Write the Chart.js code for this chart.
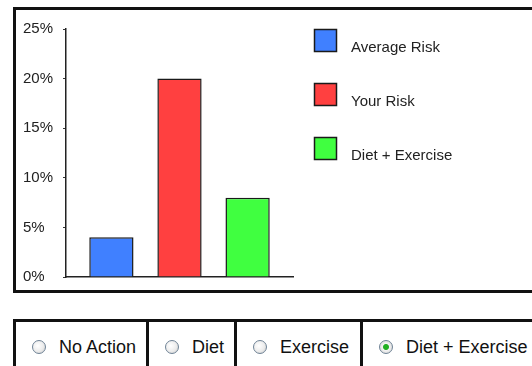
<!DOCTYPE html>
<html lang="en">
<head>
  <meta charset="UTF-8">
  <script src="https://cdn.jsdelivr.net/npm/chart.js"></script>
  <title>Risk</title>
  <style>
    body{margin:0; overflow:hidden; background:#fff; font-family:"Liberation Sans", Arial, sans-serif;}
    #box{position:absolute; left:13px; top:7px; width:560px; height:280px; border:3px solid #111;}
    #wrap{position:absolute; left:0; top:0; width:500px; height:280px;}
    #opts{position:absolute; left:13px; top:319px; display:flex; border-top:3px solid #111; border-left:3px solid #111; height:60px;}
    .opt{box-sizing:border-box; border-right:3px solid #111; height:57px; padding:14px 10px 0 16px; white-space:nowrap; line-height:22px; font-size:18px; color:#111;}
    .opt input{-webkit-appearance:none; appearance:none; width:14px; height:14px; border:1px solid #6f8396; border-radius:50%; margin:0 13px 0 0; vertical-align:-1px;
      background:radial-gradient(circle at 40% 40%, #fff 0%, #ececec 55%, #c4c4c4 100%);}
    .opt input:checked{background:radial-gradient(circle, #22b022 0, #22b022 2.5px, #f4f4f4 3.5px, #e4e4e4 65%, #c4c4c4 100%);}
  </style>
</head>
<body>
  <div id="box">
    <div id="wrap"><canvas id="myChart"></canvas></div>
  </div>
  <div id="opts">
    <label class="opt" style="width:133px"><input type="radio" name="act">No Action</label>
    <label class="opt" style="width:88px"><input type="radio" name="act">Diet</label>
    <label class="opt" style="width:126px"><input type="radio" name="act">Exercise</label>
    <label class="opt" style="width:200px"><input type="radio" name="act" checked>Diet + Exercise</label>
  </div>
  <script>
    // data
    const categories = ['Risk'];
    const seriesNames = ['Average Risk', 'Your Risk', 'Diet + Exercise'];
    const averageRisk = [4];
    const yourRisk = [20];
    const dietExercise = [8];
    const yTicks = [0, 5, 10, 15, 20, 25];
    const barColors = ['#4080ff', '#ff4040', '#40ff40'];

    const seriesValues = [averageRisk, yourRisk, dietExercise];
    const fontFamily = '"Liberation Sans", Arial, sans-serif';

    // legend on the right, text sits low next to the box
    const sideLegend = {
      id: 'sideLegend',
      afterDraw(chart){
        const {ctx, chartArea} = chart;
        chart.data.datasets.forEach(function(ds, i){
          const x = Math.round(chartArea.right) + 21;
          const y = Math.round(chartArea.top) + i * 54;
          ctx.save();
          ctx.fillStyle = ds.backgroundColor;
          ctx.fillRect(x, y, 23, 23);
          ctx.strokeStyle = '#1a1a1a';
          ctx.lineWidth = 1.5;
          ctx.strokeRect(x + 0.5, y + 0.5, 22, 22);
          ctx.fillStyle = '#222';
          ctx.font = '15px ' + fontFamily;
          ctx.textBaseline = 'alphabetic';
          ctx.fillText(ds.label, x + 37, y + 23);
          ctx.restore();
        });
      }
    };

    const ctx = document.getElementById('myChart');
    new Chart(ctx, {
      type: 'bar',
      data: {
        labels: categories,
        datasets: seriesNames.map(function(name, i){
          return {
            label: name,
            data: seriesValues[i],
            backgroundColor: barColors[i],
            borderColor: '#1a1a1a',
            borderWidth: 1.5,
            barPercentage: 0.65,
            categoryPercentage: 0.9
          };
        })
      },
      options: {
        responsive: true,
        maintainAspectRatio: false,
        animation: false,
        layout: {padding: {left: 7, top: 19, right: 223, bottom: 13}},
        plugins: {legend: {display: false}, tooltip: {enabled: false}},
        scales: {
          x: {
            ticks: {display: false},
            grid: {display: false, drawTicks: false},
            border: {display: true, color: '#222', width: 1.5}
          },
          y: {
            min: 0,
            max: 25,
            afterBuildTicks: function(scale){ scale.ticks = yTicks.map(function(v){ return {value: v}; }); },
            afterFit: function(scale){ scale.width = 43; },
            ticks: {
              crossAlign: 'far',
              color: '#222',
              font: {family: fontFamily, size: 15},
              callback: function(v){ return v + '%'; }
            },
            grid: {display: true, drawOnChartArea: false, tickLength: 3, color: '#333'},
            border: {display: true, color: '#222', width: 1.5}
          }
        }
      },
      plugins: [sideLegend]
    });
  </script>
</body>
</html>
